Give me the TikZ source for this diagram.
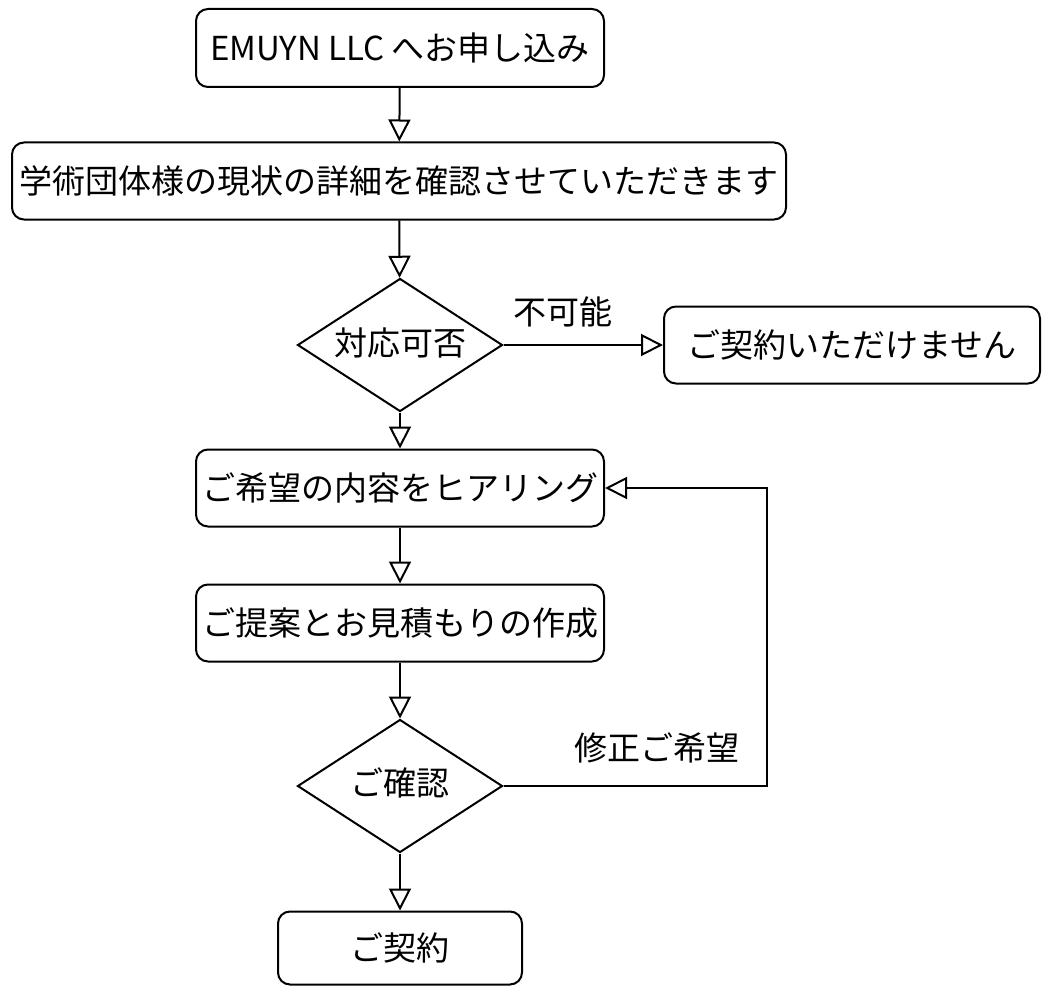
\documentclass[tikz,border=0pt]{standalone}
\usepackage{fontspec}
\setmainfont{Noto Sans CJK JP}
\usetikzlibrary{shapes.geometric,arrows.meta}
\tikzset{
  box/.style={draw, line width=2pt, rounded corners=12pt, inner sep=0pt, align=center, font=\fontsize{33}{40}\selectfont},
  decision/.style={draw, diamond, line width=2pt, inner sep=0pt, minimum width=205pt, minimum height=133pt},
  dtext/.style={inner sep=0pt, font=\fontsize{33}{40}\selectfont},
  lbl/.style={fill=white, inner sep=2pt, font=\fontsize{33}{40}\selectfont},
  flow/.style={line width=2pt, -{Triangle[open, length=22pt, width=22pt, line width=2pt]}}
}
\begin{document}
\begin{tikzpicture}[x=1pt, y=-1pt]
\useasboundingbox[fill=white] (0,0) rectangle (1043,987);
\node[box, minimum width=408pt, minimum height=78pt] (b1) at (400,48) {EMUYN LLC へお申し込み};
\node[box, minimum width=774pt, minimum height=77pt] (b2) at (399,181) {学術団体様の現状の詳細を確認させていただきます};
\node[decision] (d1) at (400,345) {};
\node[dtext] (d1t) at (400,343) {対応可否};
\node[box, minimum width=376pt, minimum height=77pt] (no) at (852,345) {ご契約いただけません};
\node[box, minimum width=408pt, minimum height=77pt] (b3) at (400,488) {ご希望の内容をヒアリング};
\node[box, minimum width=408pt, minimum height=77pt] (b4) at (400,623) {ご提案とお見積もりの作成};
\node[decision] (d2) at (400,786) {};
\node[dtext] (d2t) at (400,783) {ご確認};
\node[box, minimum width=244pt, minimum height=73pt] (b5) at (400,948) {ご契約};
\coordinate (loop) at (767,786);
\draw[flow] (b1) -- (b2);
\draw[flow] (b2) -- (d1);
\draw[flow] (d1) -- (no);
\draw[flow] (d1) -- (b3);
\draw[flow] (b3) -- (b4);
\draw[flow] (b4) -- (d2);
\draw[flow] (d2) -- (b5);
\draw[flow] (d2.east) -- (loop) |- (b3.east);
\node[lbl] (l1) at (563,312) {不可能};
\node[lbl] (l2) at (657,748) {修正ご希望};
\end{tikzpicture}
\end{document}
